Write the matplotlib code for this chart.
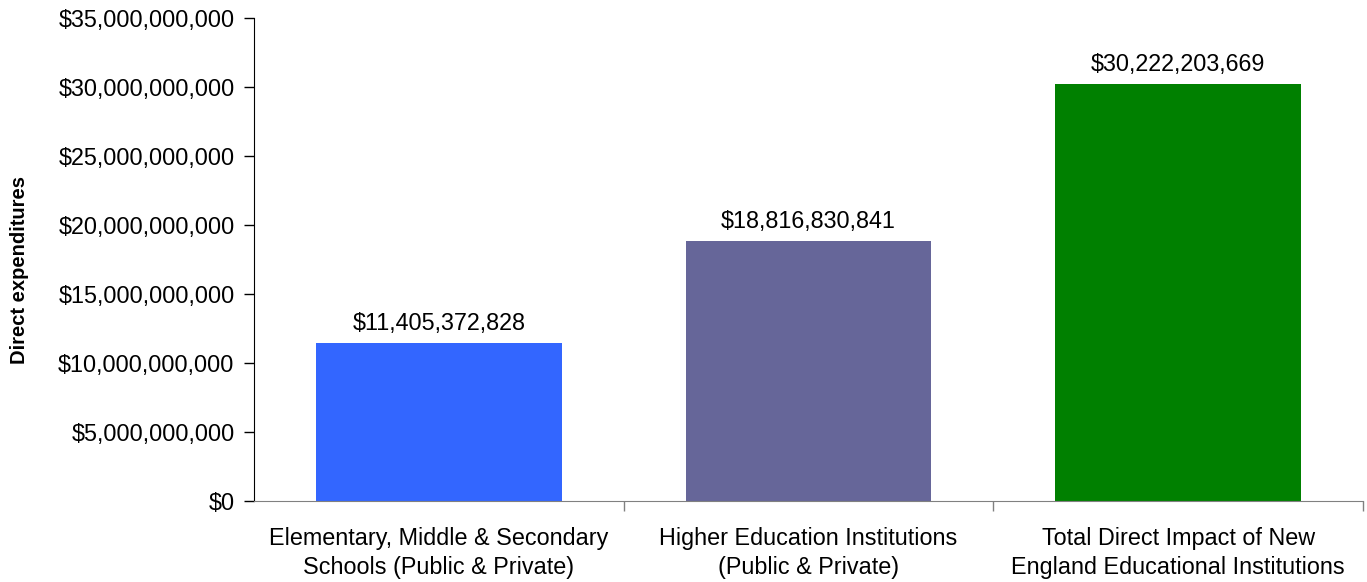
import matplotlib
matplotlib.use("Agg")
import matplotlib.pyplot as plt
from matplotlib.ticker import FuncFormatter, FixedLocator

plt.rcParams['font.family'] = ['Liberation Sans', 'DejaVu Sans']

categories = ["Elementary, Middle & Secondary\nSchools (Public & Private)",
              "Higher Education Institutions\n(Public & Private)",
              "Total Direct Impact of New\nEngland Educational Institutions"]
values = [11405372828, 18816830841, 30222203669]
colors = ["#3366FF", "#666699", "#008000"]
yticks = [0, 5e9, 10e9, 15e9, 20e9, 25e9, 30e9, 35e9]

fig = plt.figure(figsize=(13.67, 5.82), dpi=100)
ax = fig.add_axes([254/1367, 1 - 500.7/582, (1363-254)/1367, (500.7-18)/582])

x = list(range(len(values)))
bars = ax.bar(x, values, width=0.665, color=colors, zorder=2)
for xi, v in zip(x, values):
    ax.annotate(f"${v:,.0f}", (xi, v), xytext=(0, 6), textcoords="offset points",
                ha="center", va="bottom", fontsize=16.8, color="#000000")

ax.set_xlim(-0.5, len(values) - 0.5)
ax.set_ylim(0, 35e9)
ax.set_yticks(yticks)
ax.yaxis.set_major_formatter(FuncFormatter(lambda v, p: f"${v:,.0f}"))
ax.tick_params(axis='y', direction='out', length=7, width=1, labelsize=16.8, pad=7)

ax.set_xticks(x)
ax.set_xticklabels(categories, fontsize=16.8, linespacing=1.35)
ax.tick_params(axis='x', length=0, pad=19)
ax.xaxis.set_minor_locator(FixedLocator([0.5, 1.5, 2.5]))
ax.tick_params(axis='x', which='minor', direction='out', length=7, width=1, color='#808080')

for s in ['top', 'right']:
    ax.spines[s].set_visible(False)
ax.spines['left'].set_color('#000000')
ax.spines['bottom'].set_color('#808080')

ax.set_ylabel("Direct expenditures", fontsize=14.5, fontweight='bold')
ax.yaxis.set_label_coords(-0.203, 0.478)

fig.savefig("out.png", dpi=100)
